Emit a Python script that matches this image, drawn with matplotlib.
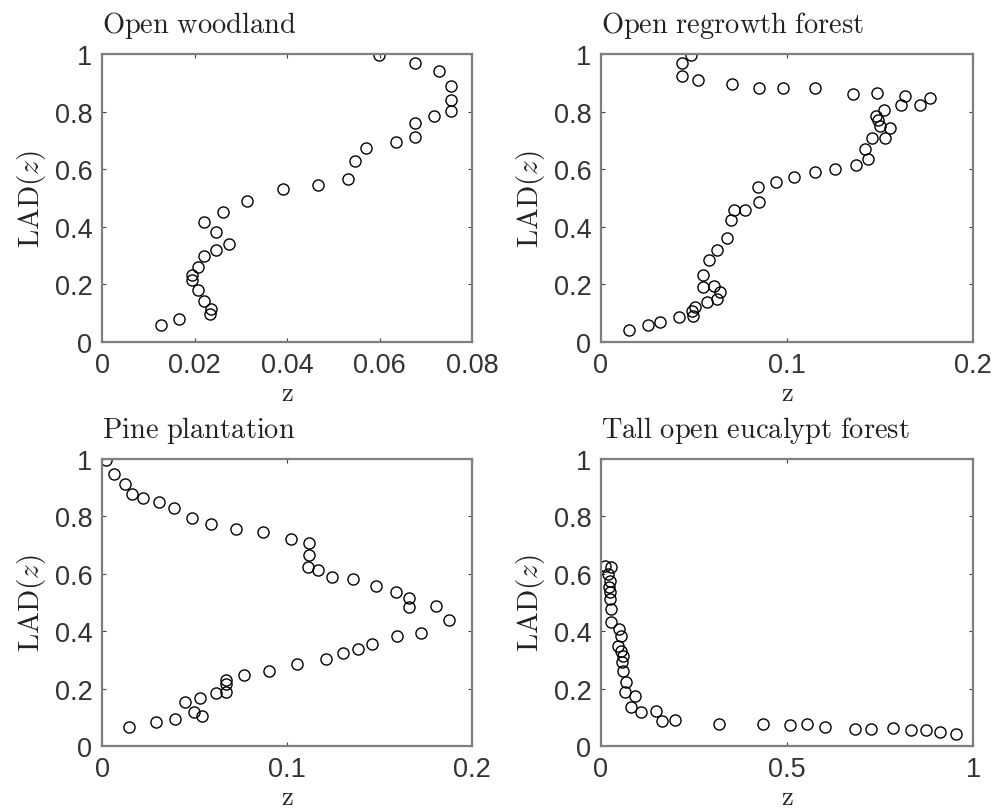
import matplotlib
matplotlib.use("Agg")
import matplotlib.pyplot as plt

plt.rcParams['mathtext.fontset'] = 'cm'

titles = ["Open woodland", "Open regrowth forest", "Pine plantation", "Tall open eucalypt forest"]

# Open woodland
ow_x = [0.0598, 0.0677, 0.0728, 0.0755, 0.0755, 0.0755, 0.0717, 0.0677, 0.0677, 0.0636,
        0.0571, 0.0546, 0.0531, 0.0466, 0.0391, 0.0313, 0.0261, 0.0221, 0.0246, 0.0275,
        0.0246, 0.0221, 0.0208, 0.0194, 0.0194, 0.0207, 0.0221, 0.0235, 0.0233, 0.0167, 0.0127]
ow_y = [0.997, 0.968, 0.940, 0.890, 0.840, 0.803, 0.783, 0.762, 0.713, 0.693,
        0.672, 0.627, 0.565, 0.545, 0.530, 0.488, 0.453, 0.417, 0.382, 0.340,
        0.320, 0.297, 0.261, 0.232, 0.216, 0.180, 0.143, 0.116, 0.096, 0.079, 0.058]

# Open regrowth forest
orf_x = [0.0483, 0.0434, 0.0434, 0.0524, 0.0703, 0.0847, 0.0981, 0.1148, 0.1354, 0.1483,
         0.1636, 0.1614, 0.1713, 0.1770, 0.1519, 0.1480, 0.1487, 0.1498, 0.1552, 0.1528,
         0.1457, 0.1421, 0.1435, 0.1372, 0.1256, 0.1148, 0.1039, 0.0940, 0.0843, 0.0847,
         0.0775, 0.0717, 0.0700, 0.0676, 0.0622, 0.0578, 0.0547, 0.0547, 0.0610, 0.0640,
         0.0622, 0.0569, 0.0506, 0.0488, 0.0497, 0.0422, 0.0318, 0.0251, 0.0152]
orf_y = [0.998, 0.968, 0.925, 0.910, 0.896, 0.881, 0.881, 0.881, 0.861, 0.863,
         0.855, 0.824, 0.824, 0.846, 0.807, 0.783, 0.771, 0.749, 0.742, 0.710,
         0.707, 0.670, 0.635, 0.614, 0.600, 0.592, 0.574, 0.557, 0.539, 0.487,
         0.458, 0.459, 0.423, 0.360, 0.319, 0.284, 0.233, 0.192, 0.195, 0.174,
         0.151, 0.140, 0.123, 0.108, 0.090, 0.087, 0.070, 0.058, 0.042]

# Pine plantation
pp_x = [0.0023, 0.0063, 0.0123, 0.0164, 0.0222, 0.0307, 0.0390, 0.0484, 0.0587, 0.0724,
        0.0868, 0.1020, 0.1119, 0.1119, 0.1116, 0.1166, 0.1245, 0.1359, 0.1480, 0.1590,
        0.1661, 0.1661, 0.1805, 0.1877, 0.1726, 0.1594, 0.1462, 0.1383, 0.1300, 0.1209,
        0.1056, 0.0904, 0.0769, 0.0670, 0.0670, 0.0670, 0.0614, 0.0529, 0.0451, 0.0496,
        0.0538, 0.0397, 0.0291, 0.0146]
pp_y = [0.997, 0.948, 0.912, 0.878, 0.864, 0.849, 0.829, 0.794, 0.773, 0.756,
        0.744, 0.721, 0.709, 0.666, 0.623, 0.614, 0.588, 0.581, 0.559, 0.538,
        0.515, 0.486, 0.488, 0.439, 0.395, 0.383, 0.354, 0.337, 0.324, 0.302,
        0.284, 0.262, 0.249, 0.229, 0.215, 0.188, 0.183, 0.167, 0.155, 0.120,
        0.106, 0.095, 0.084, 0.067]

# Tall open eucalypt forest
toe_x = [0.0116, 0.026, 0.019, 0.023, 0.021, 0.023, 0.023, 0.028, 0.028, 0.048,
         0.053, 0.046, 0.054, 0.059, 0.057, 0.059, 0.068, 0.064, 0.091, 0.080,
         0.107, 0.147, 0.165, 0.198, 0.318, 0.435, 0.507, 0.553, 0.603, 0.682,
         0.726, 0.785, 0.834, 0.874, 0.912, 0.955]
toe_y = [0.628, 0.623, 0.599, 0.576, 0.553, 0.535, 0.512, 0.477, 0.431, 0.408,
         0.384, 0.349, 0.332, 0.315, 0.292, 0.262, 0.224, 0.187, 0.173, 0.135,
         0.117, 0.121, 0.088, 0.091, 0.076, 0.076, 0.073, 0.076, 0.067, 0.060,
         0.060, 0.062, 0.055, 0.055, 0.049, 0.041]

xs = [ow_x, orf_x, pp_x, toe_x]
ys = [ow_y, orf_y, pp_y, toe_y]
xticks = [[0, 0.02, 0.04, 0.06, 0.08], [0, 0.1, 0.2], [0, 0.1, 0.2], [0, 0.5, 1]]
xticklabels = [["0", "0.02", "0.04", "0.06", "0.08"], ["0", "0.1", "0.2"], ["0", "0.1", "0.2"], ["0", "0.5", "1"]]
xlims = [0.08, 0.2, 0.2, 1.0]
yticks = [0, 0.2, 0.4, 0.6, 0.8, 1]
yticklabels = ["0", "0.2", "0.4", "0.6", "0.8", "1"]

fig = plt.figure(figsize=(9.96, 8.12), dpi=100)
W, H = 996, 812
boxes = [(102, 55, 472, 343), (601, 55, 973, 343), (102, 460, 472, 747), (601, 460, 973, 747)]

spine_col = '#7f7f7f'
for i, (l, t, r, b) in enumerate(boxes):
    ax = fig.add_axes([l / W, 1 - b / H, (r - l) / W, (b - t) / H])
    ax.plot(xs[i], ys[i], linestyle='none', marker='o', markersize=8,
            markerfacecolor='none', markeredgecolor='black', markeredgewidth=1.0)
    ax.set_xlim(0, xlims[i])
    ax.set_ylim(0, 1)
    ax.set_xticks(xticks[i])
    ax.set_xticklabels(xticklabels[i], fontfamily='Liberation Sans', fontsize=19.5)
    ax.set_yticks(yticks)
    ax.set_yticklabels(yticklabels, fontfamily='Liberation Sans', fontsize=19.5)
    ax.tick_params(direction='in', length=3, width=0.8, color='#404040',
                   top=True, right=True, pad=7, labelcolor='#333333')
    for s in ax.spines.values():
        s.set_color(spine_col)
        s.set_linewidth(1.6)
    ax.set_title(r'$\mathrm{' + titles[i].replace(' ', r'\ ') + '}$', loc='left',
                 fontsize=20.5, pad=16, color='#222222')
    ax.set_xlabel(r'$\mathrm{z}$', fontsize=19, labelpad=2, color='#222222')
    ax.set_ylabel(r'$\mathrm{LAD}(z)$', fontsize=21, labelpad=5, color='#222222')

fig.savefig('out.png', dpi=100)
